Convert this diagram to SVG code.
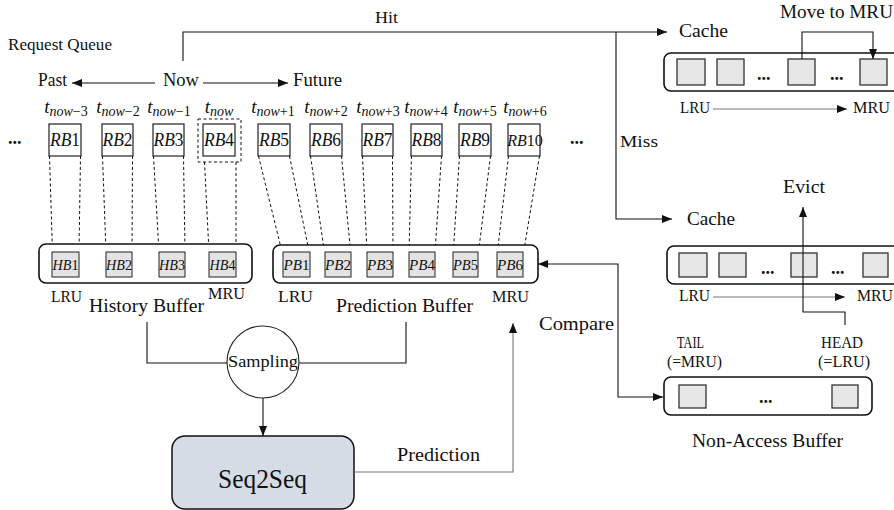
<svg xmlns="http://www.w3.org/2000/svg" width="894" height="510" viewBox="0 0 894 510">
<style>
  text{font-family:"Liberation Serif","Times New Roman",serif;fill:#111;}
  .lbl{font-size:19px;}
  .sm{font-size:17px;}
  .it{font-style:italic;}
  .rb{fill:#fff;stroke:#222;stroke-width:1.2;}
  .hb{fill:#e3e3e3;stroke:#222;stroke-width:1;}
  .cb{fill:#e6e6e6;stroke:#333;stroke-width:1.3;}
  .buf{fill:#fff;stroke:#111;stroke-width:1.6;}
  .dash{fill:none;stroke:#111;stroke-width:1;stroke-dasharray:3 2.5;}
  .ln{fill:none;stroke:#111;stroke-width:1.1;}
  .gl{fill:none;stroke:#777;stroke-width:1.1;}
  .dots{font-size:18px;font-weight:bold;}
</style>
<defs>
  <marker id="ah" markerUnits="userSpaceOnUse" markerWidth="11" markerHeight="9" refX="10" refY="4" orient="auto-start-reverse">
    <path d="M0,0 L10,4 L0,8 z" fill="#111"/>
  </marker>
</defs>

<!-- top labels -->
<text class="sm" x="8" y="50" textLength="104" lengthAdjust="spacingAndGlyphs">Request Queue</text>
<text class="lbl" x="38" y="86" textLength="29" lengthAdjust="spacingAndGlyphs">Past</text>
<text class="lbl" x="163" y="86" textLength="36" lengthAdjust="spacingAndGlyphs">Now</text>
<text class="lbl" x="293" y="86" textLength="49" lengthAdjust="spacingAndGlyphs">Future</text>
<text class="sm" x="375" y="23" textLength="23" lengthAdjust="spacingAndGlyphs">Hit</text>
<text class="sm" x="620" y="147" textLength="38" lengthAdjust="spacingAndGlyphs">Miss</text>

<!-- time labels -->
<g id="tlabels" font-size="19">
  <text x="66" y="113" text-anchor="middle"><tspan class="it">t</tspan><tspan font-size="14" dy="3" class="it">now</tspan><tspan font-size="14">−3</tspan></text>
  <text x="118" y="113" text-anchor="middle"><tspan class="it">t</tspan><tspan font-size="14" dy="3" class="it">now</tspan><tspan font-size="14">−2</tspan></text>
  <text x="169" y="113" text-anchor="middle"><tspan class="it">t</tspan><tspan font-size="14" dy="3" class="it">now</tspan><tspan font-size="14">−1</tspan></text>
  <text x="219" y="113" text-anchor="middle"><tspan class="it">t</tspan><tspan font-size="14" dy="3" class="it">now</tspan></text>
  <text x="273" y="113" text-anchor="middle"><tspan class="it">t</tspan><tspan font-size="14" dy="3" class="it">now</tspan><tspan font-size="14">+1</tspan></text>
  <text x="326" y="113" text-anchor="middle"><tspan class="it">t</tspan><tspan font-size="14" dy="3" class="it">now</tspan><tspan font-size="14">+2</tspan></text>
  <text x="378" y="113" text-anchor="middle"><tspan class="it">t</tspan><tspan font-size="14" dy="3" class="it">now</tspan><tspan font-size="14">+3</tspan></text>
  <text x="426" y="113" text-anchor="middle"><tspan class="it">t</tspan><tspan font-size="14" dy="3" class="it">now</tspan><tspan font-size="14">+4</tspan></text>
  <text x="475" y="113" text-anchor="middle"><tspan class="it">t</tspan><tspan font-size="14" dy="3" class="it">now</tspan><tspan font-size="14">+5</tspan></text>
  <text x="525" y="113" text-anchor="middle"><tspan class="it">t</tspan><tspan font-size="14" dy="3" class="it">now</tspan><tspan font-size="14">+6</tspan></text>
</g>

<text class="dots" x="8" y="144">...</text>
<text class="dots" x="570" y="144">...</text>

<!-- request boxes -->
<g id="RB" font-size="18">
  <g id="rb1"><rect class="rb" x="49" y="124" width="32" height="32"/><text x="65" y="146" text-anchor="middle" textLength="30" lengthAdjust="spacingAndGlyphs"><tspan class="it">RB</tspan>1</text></g>
  <g id="rb2"><rect class="rb" x="102" y="124" width="31" height="32"/><text x="117.5" y="146" text-anchor="middle" textLength="30" lengthAdjust="spacingAndGlyphs"><tspan class="it">RB</tspan>2</text></g>
  <g id="rb3"><rect class="rb" x="153" y="124" width="31" height="32"/><text x="168.5" y="146" text-anchor="middle" textLength="30" lengthAdjust="spacingAndGlyphs"><tspan class="it">RB</tspan>3</text></g>
  <g id="rb4"><rect class="rb" x="203" y="124" width="32" height="32"/><rect class="dash" x="198" y="119" width="43" height="43"/><text x="219" y="146" text-anchor="middle" textLength="30" lengthAdjust="spacingAndGlyphs"><tspan class="it">RB</tspan>4</text></g>
  <g id="rb5"><rect class="rb" x="258" y="124" width="32" height="32"/><text x="274" y="146" text-anchor="middle" textLength="30" lengthAdjust="spacingAndGlyphs"><tspan class="it">RB</tspan>5</text></g>
  <g id="rb6"><rect class="rb" x="310" y="124" width="32" height="32"/><text x="326" y="146" text-anchor="middle" textLength="30" lengthAdjust="spacingAndGlyphs"><tspan class="it">RB</tspan>6</text></g>
  <g id="rb7"><rect class="rb" x="362" y="124" width="31" height="32"/><text x="377.5" y="146" text-anchor="middle" textLength="30" lengthAdjust="spacingAndGlyphs"><tspan class="it">RB</tspan>7</text></g>
  <g id="rb8"><rect class="rb" x="411" y="124" width="31" height="32"/><text x="426.5" y="146" text-anchor="middle" textLength="30" lengthAdjust="spacingAndGlyphs"><tspan class="it">RB</tspan>8</text></g>
  <g id="rb9"><rect class="rb" x="459" y="124" width="32" height="32"/><text x="475" y="146" text-anchor="middle" textLength="30" lengthAdjust="spacingAndGlyphs"><tspan class="it">RB</tspan>9</text></g>
  <g id="rb10"><rect class="rb" x="508" y="124" width="32" height="32"/><text x="525" y="146" font-size="16" text-anchor="middle"><tspan class="it">RB</tspan>10</text></g>
</g>

<!-- dashed mapping lines -->
<g id="mapping" class="dash">
  <path d="M49.5,156 L52.5,252 M80.5,156 L79,252"/>
  <path d="M102.5,156 L106,252 M132.5,156 L132,252"/>
  <path d="M153.5,156 L159,252 M183.5,156 L185,252"/>
  <path d="M204.5,162 L209,252 M236,162 L236,252"/>
  <path d="M258.5,156 L283,256 M289.5,156 L310,256"/>
  <path d="M310.5,156 L325,256 M341.5,156 L351,256"/>
  <path d="M362.5,156 L367,252 M392.5,156 L393,252"/>
  <path d="M411.5,156 L409,252 M441.5,156 L435,252"/>
  <path d="M459.5,156 L453,256 M490.5,156 L478,256"/>
  <path d="M508.5,156 L497,256 M539.5,156 L523,256"/>
</g>

<!-- History buffer -->
<g id="history-buffer">
  <rect class="buf" x="39" y="244" width="213" height="39" rx="7"/>
  <g font-size="15" class="it">
    <rect class="hb" x="52" y="252" width="27" height="25"/><text x="65.5" y="270" text-anchor="middle" textLength="26" lengthAdjust="spacingAndGlyphs">HB<tspan font-style="normal">1</tspan></text>
    <rect class="hb" x="106" y="252" width="26" height="25"/><text x="119" y="270" text-anchor="middle" textLength="26" lengthAdjust="spacingAndGlyphs">HB<tspan font-style="normal">2</tspan></text>
    <rect class="hb" x="159" y="252" width="26" height="25"/><text x="172" y="270" text-anchor="middle" textLength="26" lengthAdjust="spacingAndGlyphs">HB<tspan font-style="normal">3</tspan></text>
    <rect class="hb" x="209" y="252" width="27" height="25"/><text x="222.5" y="270" text-anchor="middle" textLength="26" lengthAdjust="spacingAndGlyphs">HB<tspan font-style="normal">4</tspan></text>
  </g>
  <text class="sm" x="51" y="302" textLength="31" lengthAdjust="spacingAndGlyphs">LRU</text>
  <text class="sm" x="208" y="299" textLength="37" lengthAdjust="spacingAndGlyphs">MRU</text>
  <text class="lbl" x="89" y="312" textLength="115" lengthAdjust="spacingAndGlyphs">History Buffer</text>
</g>

<!-- Prediction buffer -->
<g id="prediction-buffer">
  <rect class="buf" x="273" y="245" width="265" height="38" rx="7"/>
  <g font-size="15" class="it">
    <rect class="hb" x="283" y="252" width="27" height="25"/><text x="296.5" y="270" text-anchor="middle" textLength="26" lengthAdjust="spacingAndGlyphs">PB<tspan font-style="normal">1</tspan></text>
    <rect class="hb" x="325" y="252" width="26" height="25"/><text x="338" y="270" text-anchor="middle" textLength="26" lengthAdjust="spacingAndGlyphs">PB<tspan font-style="normal">2</tspan></text>
    <rect class="hb" x="367" y="252" width="26" height="25"/><text x="380" y="270" text-anchor="middle" textLength="26" lengthAdjust="spacingAndGlyphs">PB<tspan font-style="normal">3</tspan></text>
    <rect class="hb" x="409" y="252" width="26" height="25"/><text x="422" y="270" text-anchor="middle" textLength="26" lengthAdjust="spacingAndGlyphs">PB<tspan font-style="normal">4</tspan></text>
    <rect class="hb" x="453" y="252" width="25" height="25"/><text x="465.5" y="270" text-anchor="middle" textLength="25" lengthAdjust="spacingAndGlyphs">PB<tspan font-style="normal">5</tspan></text>
    <rect class="hb" x="497" y="252" width="26" height="25"/><text x="510" y="270" text-anchor="middle" textLength="26" lengthAdjust="spacingAndGlyphs">PB<tspan font-style="normal">6</tspan></text>
  </g>
  <text class="sm" x="278" y="302" textLength="35" lengthAdjust="spacingAndGlyphs">LRU</text>
  <text class="sm" x="492" y="302" textLength="37" lengthAdjust="spacingAndGlyphs">MRU</text>
  <text class="lbl" x="336" y="312" textLength="137" lengthAdjust="spacingAndGlyphs">Prediction Buffer</text>
</g>

<!-- Sampling -->
<g id="sampling">
  <circle cx="263" cy="362" r="36" fill="#fff" stroke="#222" stroke-width="1.1"/>
  <text x="263" y="367" font-size="17" text-anchor="middle" textLength="70" lengthAdjust="spacingAndGlyphs">Sampling</text>
</g>

<!-- Seq2Seq -->
<g id="seq2seq">
  <rect x="172" y="436" width="182" height="73" rx="13" fill="#d6dce5" stroke="#111" stroke-width="1.5"/>
  <text x="262.5" y="488" font-size="27" text-anchor="middle" textLength="89" lengthAdjust="spacingAndGlyphs">Seq2Seq</text>
</g>

<!-- Cache 1 -->
<g id="cache-hit">
  <text class="lbl" x="679" y="37" textLength="49" lengthAdjust="spacingAndGlyphs">Cache</text>
  <text class="lbl" x="780" y="18" textLength="113" lengthAdjust="spacingAndGlyphs">Move to MRU</text>
  <rect class="buf" x="664" y="53" width="260" height="38" rx="7"/>
  <rect class="cb" x="677" y="59" width="28" height="26"/>
  <rect class="cb" x="717" y="59" width="27" height="26"/>
  <text class="dots" x="757" y="80">...</text>
  <rect class="cb" x="788" y="59" width="27" height="26"/>
  <text class="dots" x="830" y="80">...</text>
  <rect class="cb" x="860" y="59" width="27" height="26"/>
  <text class="sm" x="680" y="113" textLength="30" lengthAdjust="spacingAndGlyphs">LRU</text>
  <text class="sm" x="853" y="113" textLength="37" lengthAdjust="spacingAndGlyphs">MRU</text>
</g>

<!-- Cache 2 -->
<g id="cache-miss">
  <text class="lbl" x="687" y="225" textLength="48" lengthAdjust="spacingAndGlyphs">Cache</text>
  <text class="lbl" x="783" y="193" textLength="42" lengthAdjust="spacingAndGlyphs">Evict</text>
  <rect class="buf" x="667" y="246" width="260" height="38" rx="7"/>
  <rect class="cb" x="679" y="253" width="28" height="24"/>
  <rect class="cb" x="719" y="253" width="27" height="24"/>
  <text class="dots" x="761" y="274">...</text>
  <rect class="cb" x="791" y="253" width="26" height="24"/>
  <text class="dots" x="831" y="274">...</text>
  <rect class="cb" x="863" y="253" width="25" height="24"/>
  <text class="sm" x="679" y="301" textLength="31" lengthAdjust="spacingAndGlyphs">LRU</text>
  <text class="sm" x="857" y="301" textLength="36" lengthAdjust="spacingAndGlyphs">MRU</text>
</g>

<!-- Non-Access buffer -->
<g id="non-access-buffer">
  <text class="sm" x="677" y="348" textLength="27" lengthAdjust="spacingAndGlyphs">TAIL</text>
  <text class="sm" x="667" y="367" textLength="55" lengthAdjust="spacingAndGlyphs">(=MRU)</text>
  <text class="sm" x="821" y="348" textLength="42" lengthAdjust="spacingAndGlyphs">HEAD</text>
  <text class="sm" x="818" y="367" textLength="52" lengthAdjust="spacingAndGlyphs">(=LRU)</text>
  <rect class="buf" x="664" y="377" width="208" height="38" rx="7"/>
  <rect class="cb" x="679" y="385" width="27" height="23"/>
  <text class="dots" x="759" y="403">...</text>
  <rect class="cb" x="832" y="385" width="26" height="23"/>
  <text class="lbl" x="692" y="447" textLength="151" lengthAdjust="spacingAndGlyphs">Non-Access Buffer</text>
</g>

<!-- connectors -->
<g id="connectors">
  <path class="ln" stroke="#333" d="M155,83 H72" marker-end="url(#ah)"/>
  <path class="ln" stroke="#333" d="M203,83 H288" marker-end="url(#ah)"/>
  <path class="ln" d="M183,61 V32 H667" marker-end="url(#ah)"/>
  <path class="ln" d="M616,32 V219 H672" marker-end="url(#ah)"/>
  <path class="ln" d="M802,59 V32 H873 V59" marker-end="url(#ah)"/>
  <path class="gl" d="M713,109 H847" marker-end="url(#ah)"/>
  <path class="gl" d="M713,297 H845" marker-end="url(#ah)"/>
  <path class="ln" d="M845,325 V312 H803 V207" marker-end="url(#ah)"/>
  <path class="ln" d="M538,264 H618 V397 H663" marker-start="url(#ah)" marker-end="url(#ah)"/>
  <text class="lbl" x="539" y="330" textLength="75" lengthAdjust="spacingAndGlyphs">Compare</text>
  <path class="ln" d="M147,322 V363 H227 M406,322 V363 H299"/>
  <path class="ln" d="M263,398 V436" marker-end="url(#ah)"/>
  <path class="gl" stroke="#555" d="M354,472 H513 V323" marker-end="url(#ah)"/>
  <text class="lbl" x="397" y="461" textLength="83" lengthAdjust="spacingAndGlyphs">Prediction</text>
</g>
</svg>
